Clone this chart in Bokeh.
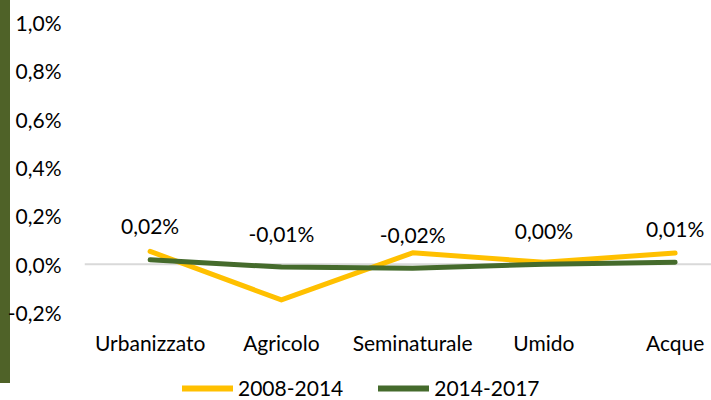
from bokeh.plotting import figure
from bokeh.layouts import column
from bokeh.models import (FixedTicker, Span, Legend, LegendItem, ColumnDataSource,
                          Range1d, CustomJSTickFormatter)
from bokeh.core.properties import value
from bokeh.embed import file_html
from bokeh.resources import INLINE

categories = ["Urbanizzato", "Agricolo", "Seminaturale", "Umido", "Acque"]
s2008_2014 = [0.053, -0.148, 0.047, 0.008, 0.046]
s2014_2017 = [0.018, -0.012, -0.017, 0.0, 0.008]
series_names = ["2008-2014", "2014-2017"]
y_ticks = [-0.2, 0.0, 0.2, 0.4, 0.6, 0.8, 1.0]

FONT = "Lato"
FS = "21px"
YELLOW = "#FFC000"
GREEN = "#456B2C"
colors = [YELLOW, GREEN]

xs = list(range(len(categories)))
labels = [f"{v:.2f}%".replace(".", ",") for v in s2014_2017]

p = figure(width=711, height=374, output_backend="svg", toolbar_location=None,
           x_range=Range1d(-0.5, 4.277), y_range=Range1d(-0.2, 1.0),
           min_border_left=84, min_border_right=0, min_border_top=22, min_border_bottom=62)
p.outline_line_color = None
p.xgrid.visible = False
p.ygrid.visible = False
p.background_fill_color = "white"
p.border_fill_color = None

zero = Span(location=0, dimension="width", line_color="#D9D9D9", line_width=2, level="underlay")
p.add_layout(zero)

src1 = ColumnDataSource(dict(x=xs, y=s2008_2014))
src2 = ColumnDataSource(dict(x=xs, y=s2014_2017, t=labels))
p.line("x", "y", source=src1, line_color=colors[0], line_width=5, line_cap="round", line_join="round")
p.line("x", "y", source=src2, line_color=colors[1], line_width=5, line_cap="round", line_join="round")
p.text("x", "y", text="t", source=src2, y_offset=-34, text_align="center", text_baseline="middle",
       text_font=value(FONT), text_font_size=FS, text_color="black")

# axes
p.yaxis.ticker = FixedTicker(ticks=y_ticks)
p.yaxis.formatter = CustomJSTickFormatter(code="return tick.toFixed(1).replace('.', ',') + '%';")
p.xaxis.ticker = FixedTicker(ticks=xs)
p.xaxis.major_label_overrides = {i: c for i, c in zip(xs, categories)}
for ax in (p.xaxis, p.yaxis):
    ax.axis_line_color = None
    ax.major_tick_line_color = None
    ax.minor_tick_line_color = None
    ax.major_tick_out = 0
    ax.major_tick_in = 0
    ax.major_label_text_font = FONT
    ax.major_label_text_font_size = FS
    ax.major_label_text_color = "black"
p.yaxis.major_label_standoff = 23
p.xaxis.major_label_standoff = 17

# legend strip under the chart
lf = figure(width=711, height=26, output_backend="svg", toolbar_location=None, title=None,
            x_axis_type=None, y_axis_type=None, x_range=Range1d(0, 1), y_range=Range1d(0, 1),
            min_border_left=0, min_border_right=0, min_border_top=0, min_border_bottom=0)
lf.outline_line_color = None
lf.xgrid.visible = False
lf.ygrid.visible = False
lf.border_fill_color = None
lf.background_fill_color = None
items = []
for name, col in zip(series_names, colors):
    r = lf.line(x=[5, 6], y=[5, 6], line_color=col, line_width=6, line_cap="round")
    items.append(LegendItem(label=name, renderers=[r]))
legend = Legend(items=items, orientation="horizontal", location=(98, 0),
                border_line_color=None, background_fill_alpha=0, padding=0, margin=0,
                spacing=35, glyph_width=51, glyph_height=20, label_standoff=5,
                label_text_font=FONT, label_text_font_size=FS, label_text_color="black")
lf.add_layout(legend)

layout = column(p, lf, styles={
    "background-image": "linear-gradient(#4F6228, #4F6228)",
    "background-size": "10px 383px",
    "background-repeat": "no-repeat",
    "background-position": "0 0",
})

open("out.html", "w").write(file_html(layout, INLINE))
